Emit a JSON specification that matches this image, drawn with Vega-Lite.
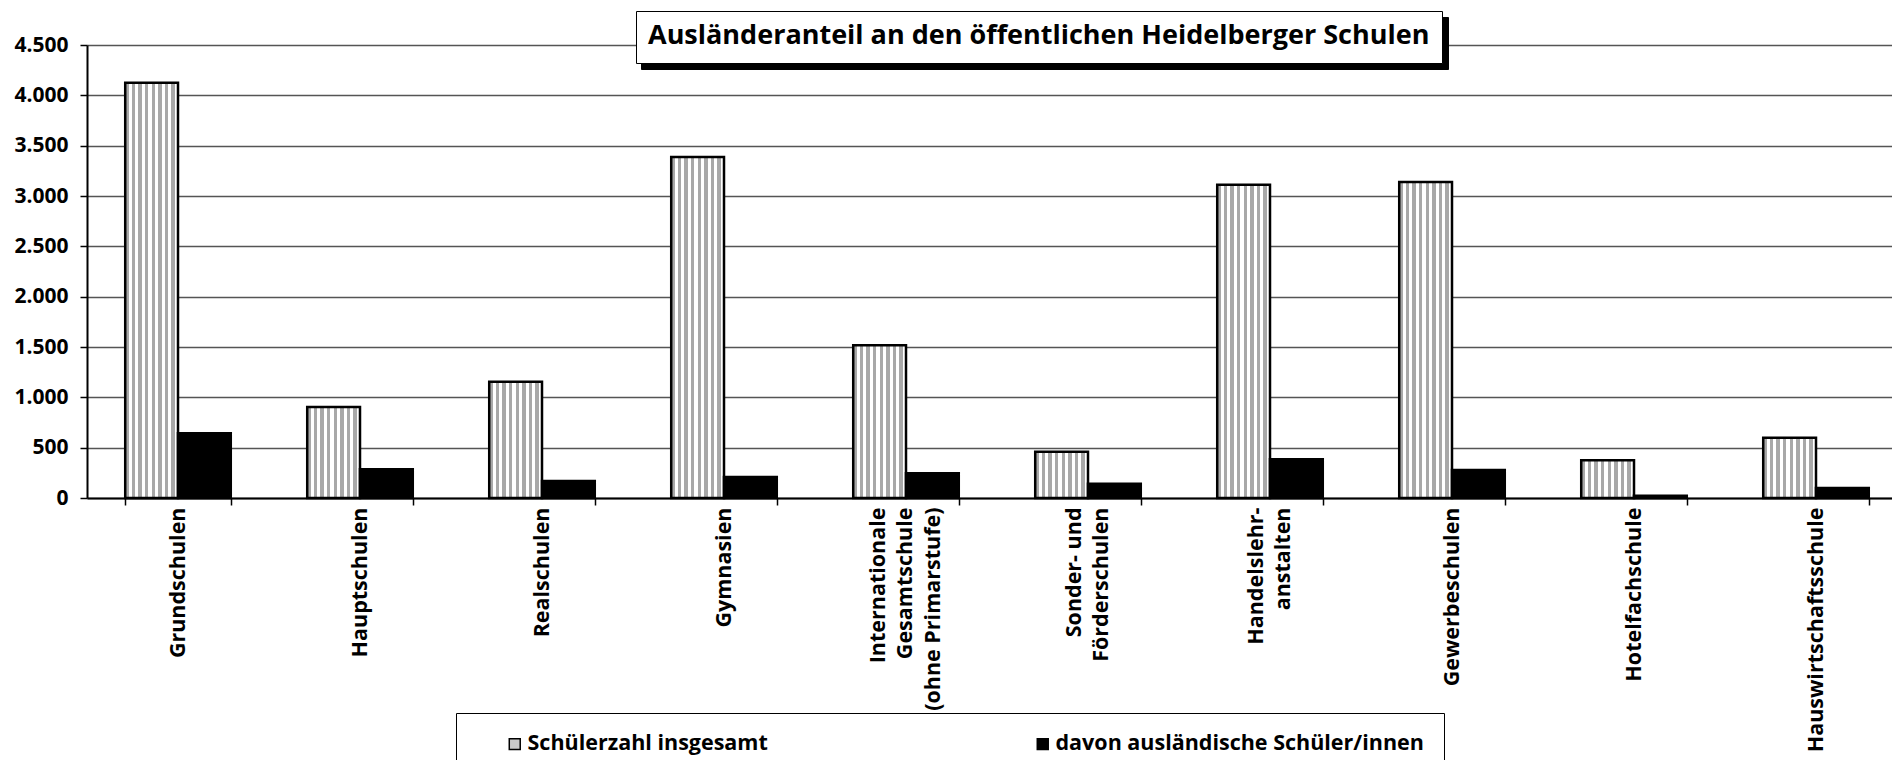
{
  "$schema": "https://vega.github.io/schema/vega-lite/v6.json",
  "autosize": "none",
  "width": 1820,
  "height": 453,
  "padding": {"left": 87, "top": 45, "right": 0, "bottom": 262},
  "background": "white",
  "config": {
    "font": "Open Sans",
    "view": {"stroke": null}
  },
  "data": {
    "values": [
      {"schule": "Grundschulen", "serie": "Schülerzahl insgesamt", "anzahl": 4125},
      {"schule": "Grundschulen", "serie": "davon ausländische Schüler/innen", "anzahl": 643},
      {"schule": "Hauptschulen", "serie": "Schülerzahl insgesamt", "anzahl": 904},
      {"schule": "Hauptschulen", "serie": "davon ausländische Schüler/innen", "anzahl": 285},
      {"schule": "Realschulen", "serie": "Schülerzahl insgesamt", "anzahl": 1155},
      {"schule": "Realschulen", "serie": "davon ausländische Schüler/innen", "anzahl": 169},
      {"schule": "Gymnasien", "serie": "Schülerzahl insgesamt", "anzahl": 3387},
      {"schule": "Gymnasien", "serie": "davon ausländische Schüler/innen", "anzahl": 209},
      {"schule": "Internationale|Gesamtschule|(ohne Primarstufe)", "serie": "Schülerzahl insgesamt", "anzahl": 1517},
      {"schule": "Internationale|Gesamtschule|(ohne Primarstufe)", "serie": "davon ausländische Schüler/innen", "anzahl": 245},
      {"schule": "Sonder- und|Förderschulen", "serie": "Schülerzahl insgesamt", "anzahl": 460},
      {"schule": "Sonder- und|Förderschulen", "serie": "davon ausländische Schüler/innen", "anzahl": 142},
      {"schule": "Handelslehr-|anstalten", "serie": "Schülerzahl insgesamt", "anzahl": 3112},
      {"schule": "Handelslehr-|anstalten", "serie": "davon ausländische Schüler/innen", "anzahl": 384},
      {"schule": "Gewerbeschulen", "serie": "Schülerzahl insgesamt", "anzahl": 3139},
      {"schule": "Gewerbeschulen", "serie": "davon ausländische Schüler/innen", "anzahl": 278},
      {"schule": "Hotelfachschule", "serie": "Schülerzahl insgesamt", "anzahl": 374},
      {"schule": "Hotelfachschule", "serie": "davon ausländische Schüler/innen", "anzahl": 23},
      {"schule": "Hauswirtschaftsschule", "serie": "Schülerzahl insgesamt", "anzahl": 599},
      {"schule": "Hauswirtschaftsschule", "serie": "davon ausländische Schüler/innen", "anzahl": 99}
    ]
  },
  "encoding": {
    "x": {
      "field": "schule",
      "type": "nominal",
      "sort": null,
      "scale": {"paddingInner": 0.42, "paddingOuter": 0.21},
      "axis": {
        "title": null,
        "labelAngle": -90,
        "labelExpr": "split(datum.label, '|')",
        "labelFont": "Open Sans",
        "labelFontSize": 21.5,
        "labelFontWeight": "bold",
        "labelColor": "black",
        "labelLineHeight": 27.7,
        "labelPadding": 2,
        "labelLimit": 400,
        "labelOffset": {"expr": "-(length(split(datum.label, '|')) - 1) * 13.85"},
        "tickBand": "extent",
        "tickSize": 7,
        "tickColor": "black",
        "tickWidth": 1.5,
        "domainColor": "black",
        "domainWidth": 2,
        "grid": false
      }
    },
    "xOffset": {
      "field": "serie",
      "type": "nominal",
      "sort": ["Schülerzahl insgesamt", "davon ausländische Schüler/innen"],
      "scale": {"paddingInner": 0, "paddingOuter": 0}
    },
    "y": {
      "field": "anzahl",
      "type": "quantitative",
      "scale": {"domain": [0, 4500], "nice": false},
      "axis": {
        "title": null,
        "values": [0, 500, 1000, 1500, 2000, 2500, 3000, 3500, 4000, 4500],
        "labelExpr": "replace(format(datum.value, ','), ',', '.')",
        "labelFont": "Open Sans",
        "labelFontSize": 21,
        "labelFontWeight": "bold",
        "labelColor": "black",
        "labelPadding": 12,
        "tickSize": 7,
        "tickColor": "black",
        "tickWidth": 1.5,
        "domainColor": "black",
        "domainWidth": 2,
        "grid": true,
        "gridColor": "#555555",
        "gridWidth": 1.5
      }
    }
  },
  "layer": [
    {
      "mark": {"type": "bar", "stroke": "black", "strokeWidth": 2.5, "fillOpacity": 1},
      "encoding": {
        "fill": {
          "condition": {
            "test": "datum.serie === 'Schülerzahl insgesamt'",
            "value": {"gradient": "linear", "x1": 0, "y1": 0, "x2": 1, "y2": 0, "stops": [
              {"offset": 0, "color": "#a8a8a8"}, {"offset": 0.0625, "color": "#a8a8a8"},
              {"offset": 0.0625, "color": "#ffffff"}, {"offset": 0.125, "color": "#ffffff"},
              {"offset": 0.125, "color": "#a8a8a8"}, {"offset": 0.1875, "color": "#a8a8a8"},
              {"offset": 0.1875, "color": "#ffffff"}, {"offset": 0.25, "color": "#ffffff"},
              {"offset": 0.25, "color": "#a8a8a8"}, {"offset": 0.3125, "color": "#a8a8a8"},
              {"offset": 0.3125, "color": "#ffffff"}, {"offset": 0.375, "color": "#ffffff"},
              {"offset": 0.375, "color": "#a8a8a8"}, {"offset": 0.4375, "color": "#a8a8a8"},
              {"offset": 0.4375, "color": "#ffffff"}, {"offset": 0.5, "color": "#ffffff"},
              {"offset": 0.5, "color": "#a8a8a8"}, {"offset": 0.5625, "color": "#a8a8a8"},
              {"offset": 0.5625, "color": "#ffffff"}, {"offset": 0.625, "color": "#ffffff"},
              {"offset": 0.625, "color": "#a8a8a8"}, {"offset": 0.6875, "color": "#a8a8a8"},
              {"offset": 0.6875, "color": "#ffffff"}, {"offset": 0.75, "color": "#ffffff"},
              {"offset": 0.75, "color": "#a8a8a8"}, {"offset": 0.8125, "color": "#a8a8a8"},
              {"offset": 0.8125, "color": "#ffffff"}, {"offset": 0.875, "color": "#ffffff"},
              {"offset": 0.875, "color": "#a8a8a8"}, {"offset": 0.9375, "color": "#a8a8a8"},
              {"offset": 0.9375, "color": "#ffffff"}, {"offset": 1, "color": "#ffffff"}
            ]}
          },
          "value": "black"
        }
      }
    },
    {
      "mark": {"type": "square", "filled": true},
      "encoding": {
        "color": {
          "field": "serie",
          "type": "nominal",
          "scale": {
            "domain": ["Schülerzahl insgesamt", "davon ausländische Schüler/innen"],
            "range": ["#c8c8c8", "black"]
          },
          "legend": {
            "title": null,
            "orient": "none",
            "legendX": 369,
            "legendY": 668,
            "direction": "horizontal",
            "columns": 2,
            "gridAlign": "each",
            "columnPadding": 236,
            "padding": 20,
            "symbolOffset": 28,
            "strokeColor": "black",
            "fillColor": "white",
            "symbolType": "square",
            "symbolSize": 120,
            "symbolStrokeColor": "black",
            "symbolStrokeWidth": 1.5,
            "symbolOpacity": 1,
            "labelFont": "Open Sans",
            "labelFontSize": 21.5,
            "labelFontWeight": "bold",
            "labelColor": "black",
            "labelLimit": 700,
            "labelOffset": 2,
            "labelExpr": "datum.label === 'davon ausländische Schüler/innen' ? datum.label + '             ' : datum.label",
            "zindex": 1
          }
        },
        "size": {
          "field": "anzahl",
          "type": "quantitative",
          "scale": {"range": [0, 0]},
          "legend": {
            "title": null,
            "values": [0],
            "labelExpr": "''",
            "labelFontSize": 1,
            "symbolOffset": 755,
            "labelOffset": 0,
            "symbolOpacity": 0,
            "symbolStrokeWidth": 0,
            "orient": "none",
            "legendX": 554,
            "legendY": -28,
            "padding": 25.5,
            "fillColor": "black",
            "strokeColor": "black",
            "zindex": 1
          }
        },
        "opacity": {
          "field": "schule",
          "type": "nominal",
          "scale": {"range": [0, 0]},
          "legend": {
            "title": "Ausländeranteil an den öffentlichen Heidelberger Schulen",
            "values": ["Grundschulen"],
            "labelExpr": "''",
            "labelFontSize": 1,
            "symbolSize": 0,
            "symbolOpacity": 0,
            "symbolStrokeWidth": 0,
            "orient": "none",
            "legendX": 549,
            "legendY": -34,
            "padding": 12,
            "fillColor": "white",
            "strokeColor": "black",
            "titleFont": "Open Sans",
            "titleFontSize": 27,
            "titleFontWeight": "bold",
            "titleColor": "black",
            "titleLimit": 1200,
            "titlePadding": 0,
            "zindex": 2
          }
        }
      }
    }
  ]
}
